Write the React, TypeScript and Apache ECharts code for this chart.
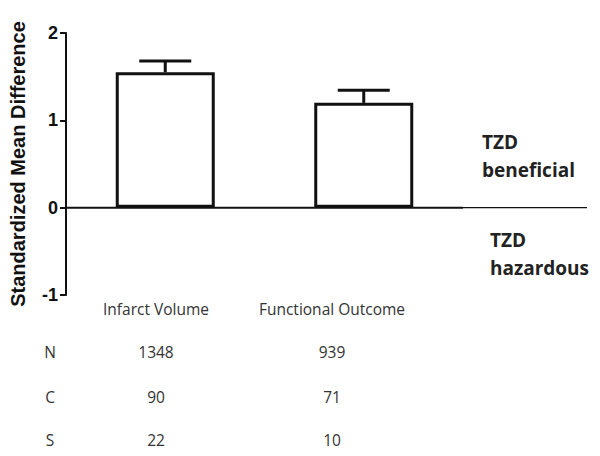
import React, { useEffect, useRef } from "react";
import * as echarts from "echarts";

const categories = ["Infarct Volume", "Functional Outcome"];
const means = [1.55, 1.2];
const upper = [1.68, 1.345];
const rowLabels = ["N", "C", "S"];
const rowValues = [
  [1348, 939],
  [90, 71],
  [22, 10],
];
const yTicks = [-1, 0, 1, 2];

export default function App() {
  const ref = useRef<HTMLDivElement>(null);
  useEffect(() => {
    if (!ref.current) return;
    const chart = echarts.init(ref.current, null, { renderer: "svg" });
    const textFont = "'Open Sans', 'DejaVu Sans', sans-serif";
    const option: any = {
      animation: false,
      backgroundColor: "#fff",
      grid: { left: 66, right: 137, top: 33, bottom: 161 },
      xAxis: {
        type: "category",
        data: categories,
        axisLine: { show: false },
        axisTick: { show: false },
        axisLabel: { show: false },
      },
      yAxis: {
        type: "value",
        min: yTicks[0],
        max: yTicks[yTicks.length - 1],
        interval: 1,
        name: "Standardized Mean Difference",
        nameLocation: "middle",
        nameGap: 38,
        nameTextStyle: {
          fontFamily: "'Liberation Sans', Arial, sans-serif",
          fontWeight: "bold",
          fontSize: 20,
          color: "#111",
        },
        axisLine: { show: true, lineStyle: { color: "#111", width: 2 } },
        axisTick: { show: true, length: 6, lineStyle: { color: "#111", width: 2 } },
        axisLabel: {
          fontFamily: "'Liberation Sans', Arial, sans-serif",
          fontWeight: "bold",
          fontSize: 18,
          color: "#111",
          margin: 8,
        },
        splitLine: { show: false },
      },
      series: [
        {
          type: "bar",
          data: means,
          barWidth: 99,
          itemStyle: { color: "#fff", borderColor: "#111", borderWidth: 3 },
          z: 3,
        },
        {
          type: "custom",
          data: categories.map((_, i) => [i, means[i], upper[i]]),
          z: 2,
          renderItem: (params: any, api: any) => {
            const x = api.value(0);
            const top = api.coord([x, api.value(1)]);
            const hi = api.coord([x, api.value(2)]);
            const half = 26;
            return {
              type: "group",
              children: [
                {
                  type: "line",
                  shape: { x1: top[0], y1: top[1], x2: hi[0], y2: hi[1] },
                  style: { stroke: "#111", lineWidth: 3 },
                },
                {
                  type: "line",
                  shape: { x1: hi[0] - half, y1: hi[1], x2: hi[0] + half, y2: hi[1] },
                  style: { stroke: "#111", lineWidth: 3 },
                },
              ],
            };
          },
        },
      ],
    };
    chart.setOption(option);

    const zeroY = chart.convertToPixel({ yAxisIndex: 0 }, 0) as number;
    const gridRight = 600 - 137;
    const colX = [156, 332];
    const graphics: any[] = [
      {
        type: "line",
        shape: { x1: 66, y1: zeroY, x2: gridRight, y2: zeroY },
        style: { stroke: "#111", lineWidth: 2 },
        z: 10,
      },
      {
        type: "line",
        shape: { x1: gridRight, y1: zeroY, x2: 587, y2: zeroY },
        style: { stroke: "#111", lineWidth: 1.3 },
        z: 10,
      },
    ];
    const plain = (text: string) => ({
      text,
      fontFamily: textFont,
      fontSize: 15.5,
      fill: "#333",
      align: "center",
      verticalAlign: "middle",
    });
    categories.forEach((c, i) => {
      graphics.push({ type: "text", x: colX[i], y: 309, style: plain(c) });
    });
    const rowY = [352, 397, 440];
    rowLabels.forEach((lab, r) => {
      graphics.push({ type: "text", x: 50, y: rowY[r], style: plain(lab) });
      rowValues[r].forEach((v, i) => {
        graphics.push({ type: "text", x: colX[i], y: rowY[r], style: plain(String(v)) });
      });
    });
    const boldStyle = (text: string) => ({
      text,
      fontFamily: textFont,
      fontWeight: "bold",
      fontSize: 19,
      fill: "#222",
      align: "left",
      verticalAlign: "middle",
    });
    graphics.push({ type: "text", x: 482, y: 142, style: boldStyle("TZD") });
    graphics.push({ type: "text", x: 482, y: 170, style: boldStyle("beneficial") });
    graphics.push({ type: "text", x: 490, y: 240, style: boldStyle("TZD") });
    graphics.push({ type: "text", x: 490, y: 268, style: boldStyle("hazardous") });
    chart.setOption({ graphic: graphics });

    return () => chart.dispose();
  }, []);
  return <div ref={ref} style={{ width: 600, height: 456, margin: "-8px 0 0 -8px" }} />;
}
